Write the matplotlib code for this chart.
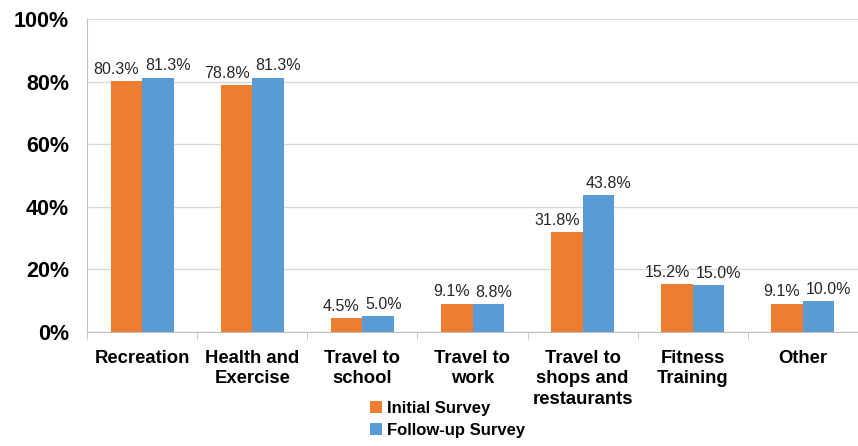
import matplotlib.pyplot as plt
import numpy as np

plt.rcParams['font.family'] = ['Liberation Sans', 'DejaVu Sans']

categories = ['Recreation', 'Health and\nExercise', 'Travel to\nschool', 'Travel to\nwork',
              'Travel to\nshops and\nrestaurants', 'Fitness\nTraining', 'Other']
initial = [80.3, 78.8, 4.5, 9.1, 31.8, 15.2, 9.1]
followup = [81.3, 81.3, 5.0, 8.8, 43.8, 15.0, 10.0]
series_names = ['Initial Survey', 'Follow-up Survey']

orange = '#ED7D31'
blue = '#5B9BD5'

fig = plt.figure(figsize=(8.58, 4.46), dpi=100)
ax = fig.add_axes([87 / 858, (446 - 332) / 446, (858 - 87) / 858, 313 / 446])

x = np.arange(len(categories))
w = 0.286
b1 = ax.bar(x - w / 2, initial, w, color=orange, label=series_names[0], zorder=3)
b2 = ax.bar(x + w / 2, followup, w, color=blue, label=series_names[1], zorder=3)

# value labels pushed apart so neighbouring labels don't collide
gap = 0.025
for rect, v in zip(b1, initial):
    ax.text(rect.get_x() + rect.get_width() - gap, v + 1.3, f'{v:.1f}%',
            ha='right', va='bottom', fontsize=11.5, color='#262626')
for rect, v in zip(b2, followup):
    ax.text(rect.get_x() + gap, v + 1.3, f'{v:.1f}%',
            ha='left', va='bottom', fontsize=11.5, color='#262626')

ax.set_ylim(0, 100)
ax.set_xlim(-0.5, -0.5 + 771 / 112)
ax.set_yticks(range(0, 101, 20))
ax.set_yticklabels([f'{v}%' for v in range(0, 101, 20)], fontsize=15.5, fontweight='bold')
ax.yaxis.grid(True, color='#d9d9d9', linewidth=1, zorder=0)
ax.tick_params(axis='y', length=0, pad=13)

ax.set_xticks(x)
ax.set_xticklabels(categories, fontsize=13.3, fontweight='bold', va='top', linespacing=1.25)
ax.tick_params(axis='x', length=0, pad=13)
ax.set_xticks(np.arange(-0.5, len(categories), 1), minor=True)
ax.tick_params(axis='x', which='minor', length=5, color='#bfbfbf', direction='out')

for side in ('top', 'right'):
    ax.spines[side].set_visible(False)
ax.spines['left'].set_color('#bfbfbf')
ax.spines['bottom'].set_color('#bfbfbf')

ax.legend(loc='upper left', bbox_to_anchor=(370 / 858, 1 - 401 / 446), bbox_transform=fig.transFigure,
          ncol=1, frameon=False, prop={'weight': 'bold', 'size': 12},
          handlelength=0.7, handleheight=0.7, handletextpad=0.3, labelspacing=0.4,
          borderaxespad=0, borderpad=0)

fig.savefig('out.png', dpi=100)
